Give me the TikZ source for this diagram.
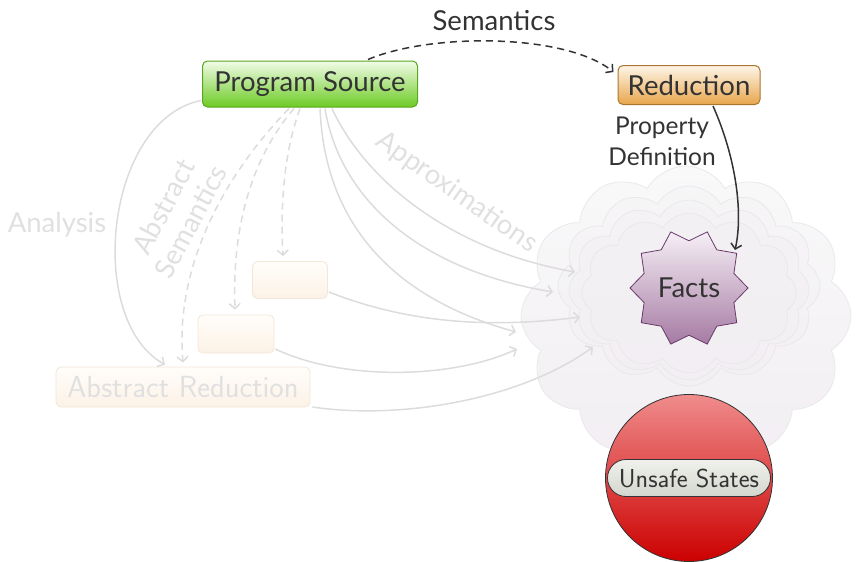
\documentclass[tikz,border=0pt]{standalone}
\usepackage{fontspec}
\setmainfont{Lato}
\usetikzlibrary{shapes.geometric,shapes.symbols,shapes.misc,calc,arrows.meta}

\definecolor{ink}{HTML}{333333}
\definecolor{faint}{HTML}{DCDCDC}
\definecolor{fainttext}{HTML}{E0E0E0}
\definecolor{pstop}{HTML}{F2FCE8}
\definecolor{psmid}{HTML}{A6E06A}
\definecolor{psbot}{HTML}{6CCB24}
\definecolor{psline}{HTML}{5AA61E}
\definecolor{redtop}{HTML}{FEF5E8}
\definecolor{redmid}{HTML}{F4CC90}
\definecolor{redbot}{HTML}{E8A64C}
\definecolor{redline}{HTML}{A8772E}
\definecolor{facttop}{HTML}{F6EFF6}
\definecolor{factbot}{HTML}{A57AA3}
\definecolor{factline}{HTML}{6A3A6A}
\definecolor{unsafetop}{HTML}{F08C8C}
\definecolor{unsafebot}{HTML}{CC0000}
\definecolor{pilltop}{HTML}{F0F1EC}
\definecolor{pillbot}{HTML}{D3D6CE}
\definecolor{ghosttop}{HTML}{FFFDFA}
\definecolor{ghostbot}{HTML}{FCF2E6}
\definecolor{ghostline}{HTML}{F2E6D8}
\definecolor{cloudtop}{HTML}{F9F9F9}
\definecolor{cloudbot}{HTML}{F2EEF3}
\definecolor{cloudline}{HTML}{EAE8EB}

\tikzset{
  bigfont/.style={font=\fontsize{27.5pt}{31pt}\selectfont},
  solidbox/.style={rectangle, rounded corners=5pt, line width=1pt, inner sep=0pt, text=ink, bigfont},
  psbox/.style={solidbox, draw=psline, top color=pstop, middle color=psmid, bottom color=psbot,
    minimum width=215pt, minimum height=46pt},
  redbox/.style={solidbox, draw=redline, top color=redtop, middle color=redmid, bottom color=redbot,
    minimum width=142pt, minimum height=39pt},
  ghostbox/.style={rectangle, rounded corners=5pt, line width=0.8pt, inner sep=0pt, draw=ghostline,
    top color=ghosttop, bottom color=ghostbot},
  label/.style={text=ink, bigfont},
  ghostlabel/.style={text=fainttext, bigfont},
  tip/.style={-{Straight Barb[length=5pt,width=11pt]}},
  darkarrow/.style={draw=ink, line width=1.5pt, tip},
  ghostarrow/.style={draw=faint, line width=1.5pt, tip},
  puffs/.style={cloud, cloud ignores aspect, inner sep=0pt, draw=cloudline, line width=0.8pt},
}

\begin{document}
\begin{tikzpicture}[x=1pt,y=-1pt]
\useasboundingbox (0,0) rectangle (857,562);

% the cloud of facts: one large cloud with nested layers
\node[puffs, cloud puffs=12, cloud puff arc=120, minimum width=330pt, minimum height=300pt,
      top color=cloudtop, bottom color=cloudbot] (sky) at (686,316) {};
\foreach \w/\h/\cy/\k in {262/200/286/1, 240/180/290/2, 215/160/293/3} {
  \node[puffs, cloud puffs=12, cloud puff arc=120, minimum width=\w pt, minimum height=\h pt,
        fill=cloudbot, fill opacity=0.25] (layer\k) at (689,\cy) {};
}

% main nodes
\node[psbox] (ps) at (310,84) {Program Source};
\node[redbox] (red) at (689,85) {Reduction};
\node[star, star points=10, star point ratio=1.25, shape border rotate=18, minimum size=118pt,
      inner sep=0pt, draw=factline, line width=0.8pt, top color=facttop, bottom color=factbot,
      text=ink, bigfont] (facts) at (689,288) {Facts};

% faded abstract side
\node[ghostbox, minimum width=75pt, minimum height=37pt] (ghostA) at (290,280) {};
\node[ghostbox, minimum width=76pt, minimum height=38pt] (ghostB) at (236,334) {};
\node[ghostbox, minimum width=254pt, minimum height=40pt, text=fainttext,
      font=\fontsize{30.5pt}{34pt}\selectfont\sffamily] (absred) at (183,387) {Abstract Reduction};

% labels
\node[label, anchor=base] (semlabel) at (494,30) {Semantics};
\node[text=ink, align=center, font=\fontsize{24.5pt}{31pt}\selectfont] (propdef) at (662,141) {Property\\Definition};
\node[ghostlabel, anchor=base] (analysis) at (57,232) {Analysis};
\node[ghostlabel, align=center, rotate=62] (abssem) at (177,214) {Abstract\\Semantics};
\node[ghostlabel, anchor=base, rotate=-35] (approx) at (452,199) {Approximations};

% arrow ends inside the cloud
\coordinate (e1) at (575,272);
\coordinate (e2) at (553,292);
\coordinate (e3) at (516,332);
\coordinate (e4) at (580,317);
\coordinate (e5) at (517,349);
\coordinate (e6) at (593,347);

% faded connectors
\draw[ghostarrow] ($(ps.south west)+(-1,-7)$) .. controls (105,120) and (85,320) .. ($(absred.north)+(-18,-2)$);
\draw[ghostarrow, dash pattern=on 7pt off 5pt] ($(ps.south)+(-21,1)$) .. controls (220,180) and (175,270) .. ($(absred.north)+(0,-4)$);
\draw[ghostarrow, dash pattern=on 7pt off 5pt] ($(ps.south)+(-16,1)$) .. controls (250,160) and (232,230) .. ($(ghostB.north)+(-1,-5)$);
\draw[ghostarrow, dash pattern=on 7pt off 5pt] ($(ps.south)+(-10,1)$) .. controls (285,150) and (280,200) .. ($(ghostA.north)+(-7,-5)$);
\draw[ghostarrow] ($(ps.south)+(22,1)$) .. controls (365,180) and (450,250) .. (e1);
\draw[ghostarrow] ($(ps.south)+(15,1)$) .. controls (340,200) and (420,270) .. (e2);
\draw[ghostarrow] ($(ps.south)+(10,1)$) .. controls (325,230) and (400,300) .. (e3);
\draw[ghostarrow] ($(ghostA.east)+(1,12)$) .. controls (400,320) and (480,330) .. (e4);
\draw[ghostarrow] ($(ghostB.east)+(1,15)$) .. controls (340,380) and (450,380) .. (e5);
\draw[ghostarrow] ($(absred.east)+(2,20)$) .. controls (400,420) and (520,400) .. (e6);

% dark connectors
\draw[darkarrow, dash pattern=on 7pt off 5pt] ($(ps.north)+(58,-1)$) .. controls (430,33) and (565,33) .. ($(red.north west)+(-4,7)$);
\draw[darkarrow] ($(red.south)+(24,1)$) .. controls (737,160) and (743,215) .. ($(facts.center)+(46,-38)$);

% unsafe states
\node[circle, minimum size=167pt, inner sep=0pt, draw=ink, line width=0.8pt,
      top color=unsafetop, bottom color=unsafebot] (unsafe) at (689,478) {};
\node[rounded rectangle, minimum width=163pt, minimum height=37pt, inner sep=0pt, draw=ink,
      line width=0.8pt, top color=pilltop, bottom color=pillbot, text=ink,
      font=\fontsize{26pt}{30pt}\selectfont\sffamily] (unsafelabel) at (unsafe.center) {Unsafe States};
\end{tikzpicture}
\end{document}
